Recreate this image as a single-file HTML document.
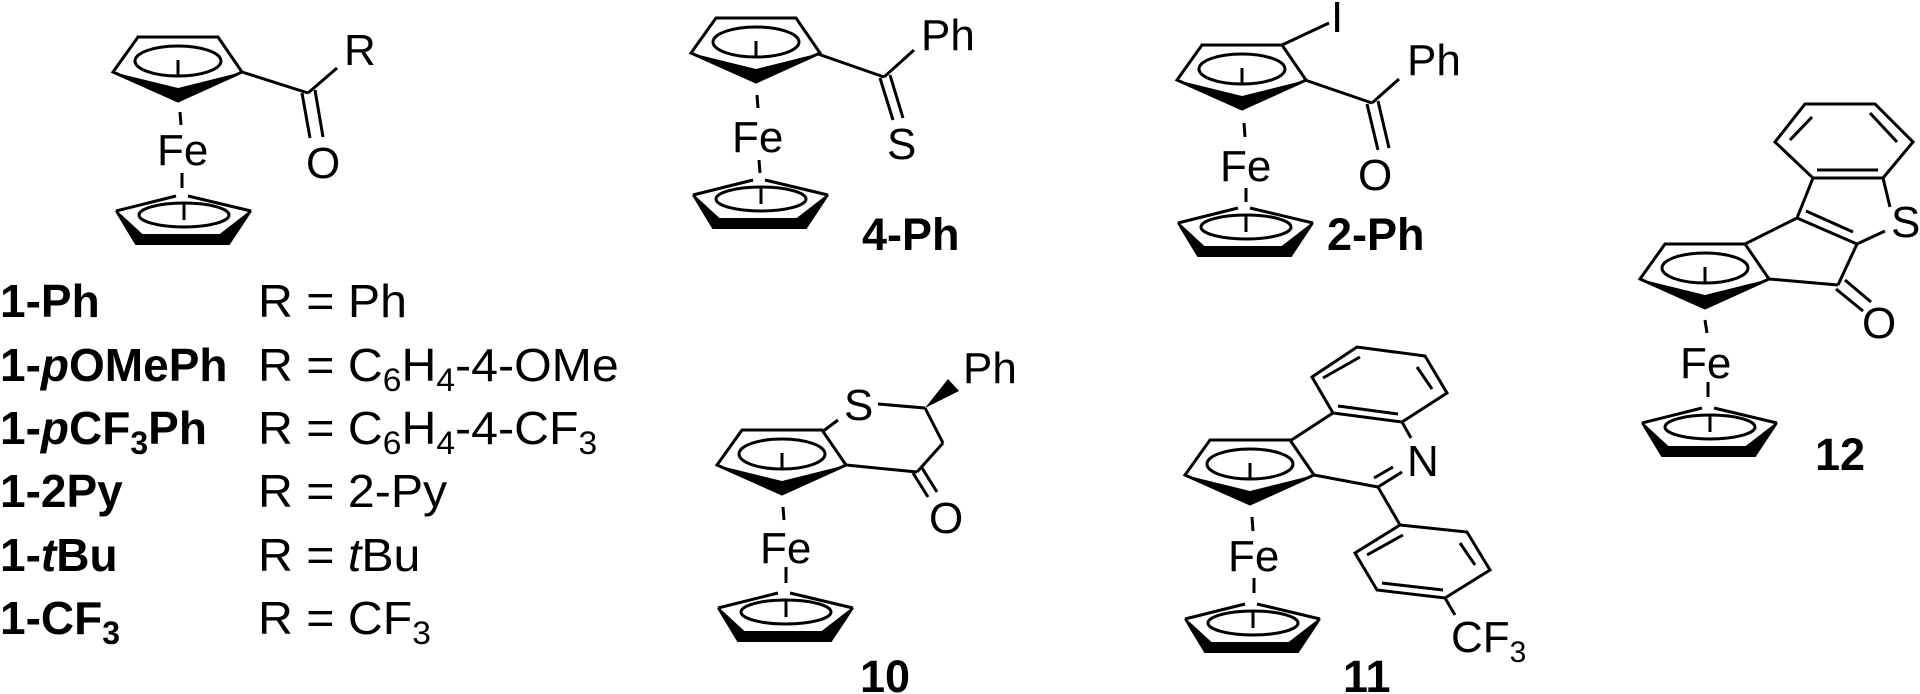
<!DOCTYPE html>
<html><head><meta charset="utf-8"><style>
html,body{margin:0;padding:0;background:#fff;}
svg{display:block;}
text{font-family:"Liberation Sans",Arial,sans-serif;fill:#000;}
.a{font-size:44px;}
.b{font-size:45px;font-weight:bold;}
.lb{font-size:46px;font-weight:bold;}
.r{font-size:46px;}
.s{font-size:30px;}
.s2{font-size:32px;}
</style></head><body>
<svg width="1920" height="694" viewBox="0 0 1920 694" xmlns="http://www.w3.org/2000/svg">
<defs>
<g id="topcp">
<polygon points="-40,-24 40,-24 64,11 0,40 -65,11" fill="none" stroke="#000" stroke-width="3" stroke-linejoin="miter"/>
<polygon points="-65,11 0,40 64,11 0,27" fill="#000"/>
<ellipse cx="0" cy="0" rx="43" ry="15" fill="none" stroke="#000" stroke-width="3"/>
<line x1="0" y1="-1" x2="0" y2="14" stroke="#000" stroke-width="3"/>
</g>
<g id="botcp">
<line x1="-68" y1="-4" x2="-8" y2="-19" stroke="#000" stroke-width="3"/>
<line x1="4" y1="-19" x2="67" y2="-4" stroke="#000" stroke-width="3"/>
<polygon points="-68,-4 -48,29 45,29 67,-4 36,20 -42,20" fill="#000" stroke="#000" stroke-width="2" stroke-linejoin="miter"/>
<ellipse cx="0" cy="0" rx="45" ry="12" fill="none" stroke="#000" stroke-width="3"/>
<line x1="0" y1="-12" x2="0" y2="5" stroke="#000" stroke-width="3"/>
</g>
</defs>

<g stroke="#000" stroke-width="3" fill="none" stroke-linecap="butt">
<!-- Structure 1 -->
<line x1="180" y1="112" x2="181" y2="125"/>
<line x1="182" y1="173" x2="182" y2="188"/>
<line x1="242" y1="72" x2="308" y2="93"/>
<line x1="308" y1="93" x2="337" y2="68"/>
<line x1="302" y1="93" x2="310" y2="138"/>
<line x1="315" y1="90" x2="323" y2="137"/>

<!-- 4-Ph -->
<line x1="757" y1="95" x2="758" y2="108"/>
<line x1="759" y1="160" x2="760" y2="173"/>
<line x1="818" y1="54" x2="884" y2="77"/>
<line x1="884" y1="77" x2="914" y2="50"/>
<line x1="880" y1="78" x2="893" y2="120"/>
<line x1="890" y1="75" x2="903" y2="118"/>

<!-- 2-Ph -->
<line x1="1244" y1="123" x2="1245" y2="137"/>
<line x1="1246" y1="188" x2="1246" y2="202"/>
<line x1="1282" y1="45" x2="1329" y2="23"/>
<line x1="1305" y1="80" x2="1372" y2="103"/>
<line x1="1372" y1="103" x2="1399" y2="79"/>
<line x1="1367" y1="104" x2="1378" y2="150"/>
<line x1="1378" y1="101" x2="1389" y2="148"/>

<!-- 10 -->
<line x1="783" y1="507" x2="784" y2="520"/>
<line x1="786" y1="567" x2="786" y2="583"/>
<line x1="822" y1="432" x2="838" y2="420"/>
<line x1="878" y1="404" x2="925" y2="408"/>
<line x1="925" y1="408" x2="943" y2="443"/>
<line x1="943" y1="443" x2="917" y2="472"/>
<line x1="846" y1="465" x2="917" y2="472"/>
<line x1="913" y1="473" x2="928" y2="497"/>
<line x1="922" y1="468" x2="937" y2="492"/>

<!-- 11 -->
<line x1="1252" y1="517" x2="1253" y2="531"/>
<line x1="1254" y1="578" x2="1254" y2="593"/>
<line x1="1290" y1="441" x2="1333" y2="413"/>
<line x1="1314" y1="475" x2="1378" y2="487"/>
<polygon points="1333,413 1312,377 1357,347 1425,356 1447,393 1402,422"/>
<line x1="1323" y1="378" x2="1360" y2="357"/>
<line x1="1417" y1="367" x2="1432" y2="389"/>
<line x1="1338" y1="406" x2="1398" y2="414"/>
<line x1="1402" y1="422" x2="1411" y2="438"/>
<line x1="1378" y1="487" x2="1402" y2="472"/>
<line x1="1374" y1="478" x2="1393" y2="467"/>
<line x1="1378" y1="487" x2="1400" y2="525"/>
<polygon points="1400,525 1467,532 1490,570 1445,598 1377,590 1355,553"/>
<line x1="1367" y1="555" x2="1403" y2="535"/>
<line x1="1460" y1="543" x2="1475" y2="565"/>
<line x1="1382" y1="583" x2="1443" y2="590"/>
<line x1="1445" y1="598" x2="1455" y2="615"/>

<!-- 12 -->
<line x1="1705" y1="320" x2="1707" y2="333"/>
<line x1="1708" y1="382" x2="1708" y2="397"/>
<line x1="1745" y1="244" x2="1797" y2="218"/>
<line x1="1769" y1="279" x2="1838" y2="285"/>
<line x1="1836" y1="289" x2="1863" y2="311"/>
<line x1="1845" y1="280" x2="1871" y2="302"/>
<line x1="1838" y1="285" x2="1857" y2="244"/>
<line x1="1797" y1="218" x2="1857" y2="244"/>
<line x1="1806" y1="211" x2="1853" y2="232"/>
<line x1="1857" y1="244" x2="1885" y2="231"/>
<line x1="1890" y1="207" x2="1883" y2="178"/>
<polyline points="1797,218 1813,178 1775,142 1805,104 1875,104 1913,142 1883,178 1813,178"/>
<line x1="1817" y1="170" x2="1878" y2="170"/>
<line x1="1790" y1="140" x2="1812" y2="117"/>
<line x1="1870" y1="113" x2="1897" y2="142"/>
</g>

<polygon points="925,408 948,379 959,391" fill="#000"/>

<use href="#topcp" x="178" y="61"/>
<use href="#botcp" x="184" y="215"/>
<use href="#topcp" x="756" y="42"/>
<use href="#botcp" x="761" y="199"/>
<use href="#topcp" x="1242" y="69"/>
<use href="#botcp" x="1246" y="227"/>
<use href="#topcp" x="782" y="454"/>
<use href="#botcp" x="786" y="612"/>
<use href="#topcp" x="1250" y="464"/>
<use href="#botcp" x="1253" y="623"/>
<use href="#topcp" x="1705" y="268"/>
<use href="#botcp" x="1710" y="427"/>

<!-- atom labels -->
<text class="a" x="157" y="165">Fe</text>
<text class="a" x="344" y="65">R</text>
<text class="a" x="306" y="178">O</text>

<text class="a" x="732" y="152">Fe</text>
<text class="a" x="921" y="50">Ph</text>
<text class="a" x="887" y="159">S</text>
<text class="b" x="862" y="250">4-Ph</text>

<text class="a" x="1220" y="181">Fe</text>
<text class="a" x="1331" y="32">I</text>
<text class="a" x="1407" y="75">Ph</text>
<text class="a" x="1358" y="190">O</text>
<text class="b" x="1327" y="250">2-Ph</text>

<text class="a" x="760" y="563">Fe</text>
<text class="a" x="844" y="420">S</text>
<text class="a" x="963" y="383">Ph</text>
<text class="a" x="929" y="533">O</text>
<text class="b" x="860" y="692">10</text>

<text class="a" x="1228" y="571">Fe</text>
<text class="a" x="1407" y="476">N</text>
<text class="a" x="1451" y="652">CF<tspan class="s" dy="10">3</tspan></text>
<text class="b" x="1343" y="692">11</text>

<text class="a" x="1680" y="378">Fe</text>
<text class="a" x="1891" y="237">S</text>
<text class="a" x="1862" y="338">O</text>
<text class="b" x="1815" y="470">12</text>

<!-- left labels -->
<text class="lb" x="0" y="317">1-Ph</text>
<text class="lb" x="0" y="381">1-<tspan font-style="italic">p</tspan>OMePh</text>
<text class="lb" x="0" y="444">1-<tspan font-style="italic">p</tspan>CF<tspan class="s2" dy="10">3</tspan><tspan dy="-10">Ph</tspan></text>
<text class="lb" x="0" y="507">1-2Py</text>
<text class="lb" x="0" y="571">1-<tspan font-style="italic">t</tspan>Bu</text>
<text class="lb" x="0" y="634">1-CF<tspan class="s2" dy="10">3</tspan></text>

<g transform="translate(258,0) scale(1.05,1)">
<text class="r" x="0" y="317">R = Ph</text>
<text class="r" x="0" y="381">R = C<tspan class="s2" dy="10">6</tspan><tspan dy="-10">H</tspan><tspan class="s2" dy="10">4</tspan><tspan dy="-10">-4-OMe</tspan></text>
<text class="r" x="0" y="444">R = C<tspan class="s2" dy="10">6</tspan><tspan dy="-10">H</tspan><tspan class="s2" dy="10">4</tspan><tspan dy="-10">-4-CF</tspan><tspan class="s2" dy="10">3</tspan></text>
<text class="r" x="0" y="507">R = 2-Py</text>
<text class="r" x="0" y="571">R = <tspan font-style="italic">t</tspan>Bu</text>
<text class="r" x="0" y="634">R = CF<tspan class="s2" dy="10">3</tspan></text>
</g>
</svg>
</body></html>
